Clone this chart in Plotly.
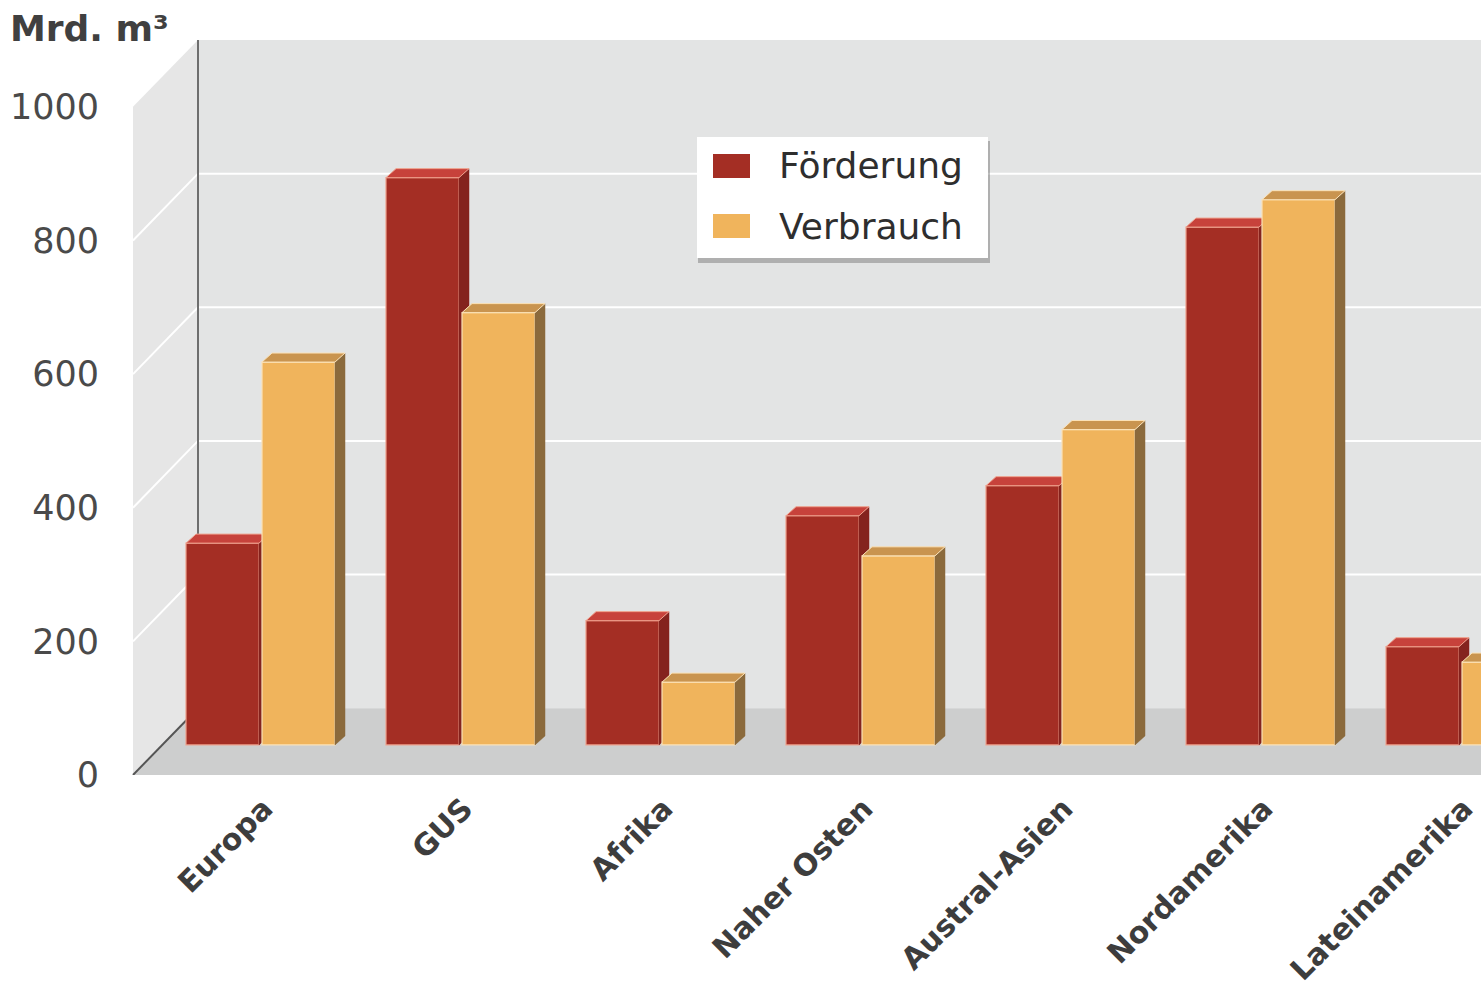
import plotly.graph_objects as go

# ---------------- data ----------------
categories = ["Europa", "GUS", "Afrika", "Naher Osten", "Austral-Asien", "Nordamerika", "Lateinamerika"]
foerderung = [302, 849, 186, 343, 388, 775, 147]
verbrauch = [573, 647, 94, 283, 472, 816, 124]
series_names = ["Förderung", "Verbrauch"]
y_ticks = [0, 200, 400, 600, 800, 1000]
y_unit_label = "Mrd. m³"

# ---------------- style ----------------
RED, RED_TOP, RED_SIDE, RED_EDGE = "#a42e24", "#c7423b", "#84231e", "#eea08c"
YEL, YEL_TOP, YEL_SIDE, YEL_EDGE = "#f0b45c", "#c9944f", "#8b6a3c", "#fbe2b8"
WALL, SIDE_WALL, FLOOR = "#e3e4e4", "#e6e6e6", "#cdcece"
FONT = "DejaVu Sans"

W, H = 1481, 987
L, R, T, B = 133, 1481, 40, 775
WALL_DEPTH_PX = 65          # back wall offset (x)
WALL_DEPTH_V = 100          # back wall offset in value units (y)
BAR_DEPTH_V = 45            # bars' floor offset in value units
Y_MAX = 1100

def pxx(X):
    return (X - L) / (R - L)

def pxy(Y):
    return (B - Y) / (B - T)

x_pos = list(range(len(categories)))
bw = 0.365
off_red, off_yel = -0.375, 0.005
dx = 0.05      # bar depth in x units
dy = 13.5      # bar depth in value units


def faces(values, off):
    top_x, top_y, side_x, side_y = [], [], [], []
    for xi, v in zip(x_pos, values):
        xl = xi + off
        xr = xl + bw
        top_x += [xl, xr, xr + dx, xl + dx, xl, None]
        top_y += [v, v, v + dy, v + dy, v, None]
        side_x += [xr, xr, xr + dx, xr + dx, xr, None]
        side_y += [0, v, v + dy, dy, 0, None]
    return top_x, top_y, side_x, side_y


fig = go.Figure()

for vals, off, front, top, side, edge, yax, name in [
    (foerderung, off_red, RED, RED_TOP, RED_SIDE, RED_EDGE, "y2", series_names[0]),
    (verbrauch, off_yel, YEL, YEL_TOP, YEL_SIDE, YEL_EDGE, "y3", series_names[1]),
]:
    fig.add_trace(go.Bar(
        x=x_pos, y=vals, offset=off, width=bw, yaxis=yax, name=name,
        marker=dict(color=front, line=dict(color=edge, width=1.2)), showlegend=False,
    ))
    tx, ty, sx, sy = faces(vals, off)
    fig.add_trace(go.Scatter(x=sx, y=sy, yaxis=yax, mode="lines", fill="toself",
                             fillcolor=side, line=dict(color=side, width=0.5),
                             showlegend=False, hoverinfo="skip"))
    fig.add_trace(go.Scatter(x=tx, y=ty, yaxis=yax, mode="lines", fill="toself",
                             fillcolor=top, line=dict(color=edge, width=1),
                             showlegend=False, hoverinfo="skip"))

shapes = []
bx = pxx(L + WALL_DEPTH_PX)
# side wall
shapes.append(dict(type="path", xref="paper", yref="y", layer="below",
                   path=f"M 0,0 L 0,{y_ticks[-1]} L {bx},{y_ticks[-1] + WALL_DEPTH_V} L {bx},{WALL_DEPTH_V} Z",
                   fillcolor=SIDE_WALL, line=dict(width=0)))
# back wall
shapes.append(dict(type="rect", xref="paper", yref="y", layer="below",
                   x0=bx, x1=1, y0=WALL_DEPTH_V, y1=y_ticks[-1] + WALL_DEPTH_V,
                   fillcolor=WALL, line=dict(width=0)))
# floor
shapes.append(dict(type="path", xref="paper", yref="y", layer="below",
                   path=f"M 0,0 L {bx},{WALL_DEPTH_V} L 1,{WALL_DEPTH_V} L 1,0 Z",
                   fillcolor=FLOOR, line=dict(width=0)))
# grid lines (back wall + side wall)
for v in y_ticks[1:-1]:
    shapes.append(dict(type="line", xref="paper", yref="y", layer="below",
                       x0=bx, x1=1, y0=v + WALL_DEPTH_V, y1=v + WALL_DEPTH_V,
                       line=dict(color="white", width=2)))
    shapes.append(dict(type="line", xref="paper", yref="y", layer="below",
                       x0=0, x1=bx, y0=v, y1=v + WALL_DEPTH_V,
                       line=dict(color="white", width=2)))
# dark edges
shapes.append(dict(type="line", xref="paper", yref="y", layer="below",
                   x0=bx, x1=bx, y0=WALL_DEPTH_V, y1=y_ticks[-1] + WALL_DEPTH_V,
                   line=dict(color="#6e6e6e", width=2)))
shapes.append(dict(type="line", xref="paper", yref="y", layer="below",
                   x0=0, x1=bx, y0=0, y1=WALL_DEPTH_V,
                   line=dict(color="#555555", width=2)))

# manual legend
lx0, lx1, ly0, ly1 = 697, 988, 137, 258
shapes.append(dict(type="rect", xref="paper", yref="paper", layer="above",
                   x0=pxx(lx0 + 1), x1=pxx(lx1 + 2), y0=pxy(ly1 + 5), y1=pxy(ly0 + 4),
                   fillcolor="rgba(110,110,110,0.45)", line=dict(width=0)))
shapes.append(dict(type="rect", xref="paper", yref="paper", layer="above",
                   x0=pxx(lx0), x1=pxx(lx1), y0=pxy(ly1), y1=pxy(ly0),
                   fillcolor="white", line=dict(width=0)))
annotations = []
for i, (nm, col) in enumerate(zip(series_names, [RED, YEL])):
    cy = 166 + 60 * i
    shapes.append(dict(type="rect", xref="paper", yref="paper", layer="above",
                       x0=pxx(713), x1=pxx(750), y0=pxy(cy + 12), y1=pxy(cy - 12),
                       fillcolor=col, line=dict(width=0)))
    annotations.append(dict(xref="paper", yref="paper", x=pxx(777), y=pxy(cy),
                            xanchor="left", yanchor="middle", showarrow=False, text=nm,
                            font=dict(family=FONT, size=36, color="#2e2e2e")))

annotations.append(dict(xref="paper", yref="paper", x=pxx(8), y=pxy(28),
                        xanchor="left", yanchor="middle", showarrow=False, text=y_unit_label,
                        font=dict(family=FONT, size=36, color="#404040", weight="bold")))

fig.update_layout(
    template="none",
    width=W, height=H,
    margin=dict(l=L, r=W - R, t=T, b=H - B, pad=0),
    paper_bgcolor="white", plot_bgcolor="rgba(0,0,0,0)",
    showlegend=False,
    barmode="overlay",
    shapes=shapes, annotations=annotations,
    xaxis=dict(range=[-0.64, 6.1], tickmode="array", tickvals=x_pos, ticktext=categories,
               tickangle=-45, showgrid=False, zeroline=False, showline=False, ticks="",
               automargin=False, ticklabelstandoff=9, ticklabelshift=3,
               ticklabeloverflow="allow",
               tickfont=dict(family=FONT, size=30, color="#3d3d3d", weight="bold")),
    yaxis=dict(range=[0, Y_MAX], tickmode="array", tickvals=y_ticks,
               ticktext=[str(v) for v in y_ticks], showgrid=False, zeroline=False,
               showline=False, ticks="", automargin=False, ticklabelstandoff=33,
               tickfont=dict(family=FONT, size=35, color="#4a4a4a")),
    yaxis2=dict(range=[-BAR_DEPTH_V, Y_MAX - BAR_DEPTH_V], overlaying="y", visible=False),
    yaxis3=dict(range=[-BAR_DEPTH_V, Y_MAX - BAR_DEPTH_V], overlaying="y", visible=False),
)

fig.write_html("out.html")
